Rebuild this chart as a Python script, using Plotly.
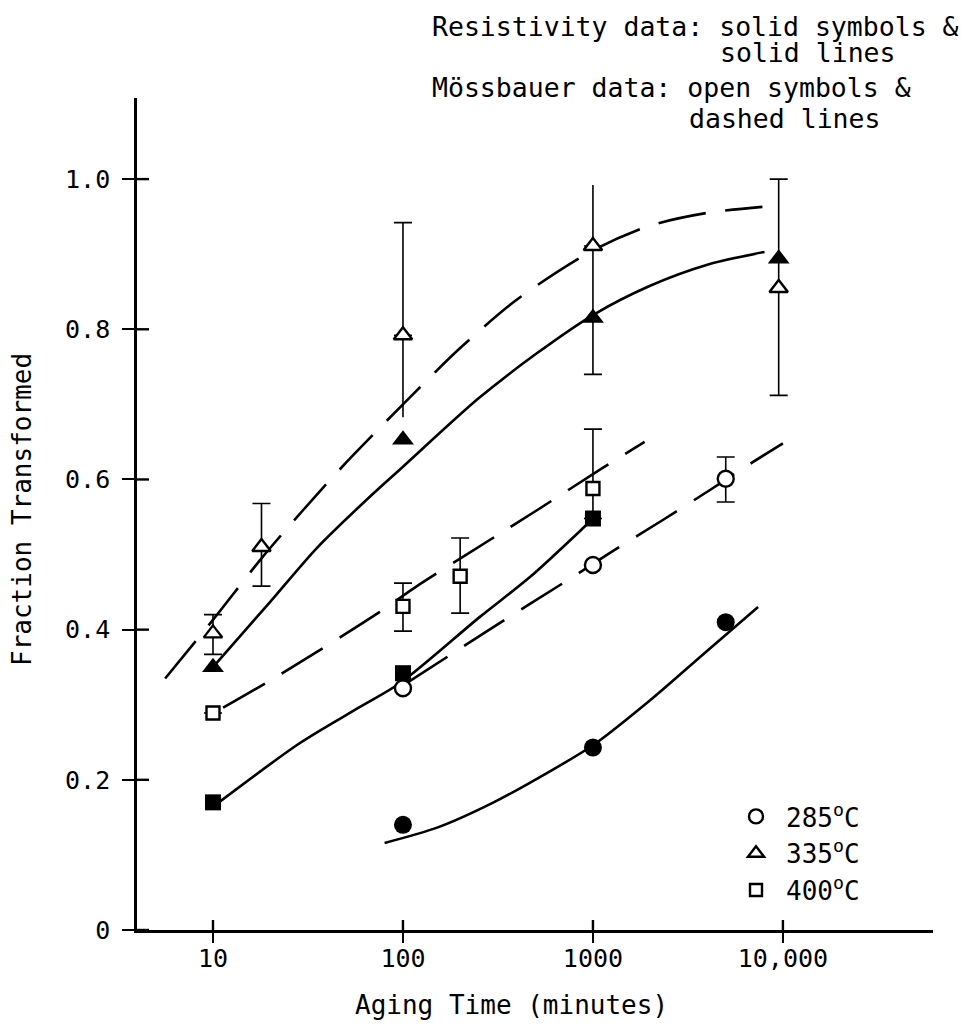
import math
import plotly.graph_objects as go

# ---------------- data ----------------
x_tickvals = [10, 100, 1000, 10000]
x_ticktext = ["10", "100", "1000", "10,000"]
y_tickvals = [0, 0.2, 0.4, 0.6, 0.8, 1.0]
y_ticktext = ["0", "0.2", "0.4", "0.6", "0.8", "1.0"]

# Resistivity data (solid symbols)
r285_t = [100, 1000, 5000]
r285_v = [0.140, 0.243, 0.410]
r335_t = [10, 100, 1000, 9500]
r335_v = [0.350, 0.653, 0.815, 0.894]
r400_t = [10, 100, 1000]
r400_v = [0.170, 0.342, 0.548]

# Mossbauer data (open symbols) with error bars
m285_t = [100, 1000, 5000]
m285_v = [0.322, 0.486, 0.601]
m285_up = [0.0, 0.0, 0.029]
m285_dn = [0.0, 0.0, 0.031]
m285_cap_up = [True, True, True]
m285_cap_dn = [True, True, True]

m335_t = [10, 18, 100, 1000, 9500]
m335_v = [0.395, 0.510, 0.792, 0.911, 0.855]
m335_up = [0.025, 0.058, 0.150, 0.081, 0.145]
m335_dn = [0.028, 0.052, 0.109, 0.171, 0.143]
m335_cap_up = [True, True, True, False, True]
m335_cap_dn = [True, True, False, True, True]

m400_t = [10, 100, 200, 1000]
m400_v = [0.289, 0.431, 0.471, 0.588]
m400_up = [0.0, 0.031, 0.051, 0.079]
m400_dn = [0.0, 0.033, 0.049, 0.040]
m400_cap_up = [True, True, True, True]
m400_cap_dn = [True, True, True, True]

# Fitted curves
cr285_t = [80, 150, 300, 600, 1000, 2000, 4000, 7400]
cr285_v = [0.116, 0.136, 0.170, 0.212, 0.246, 0.306, 0.372, 0.430]
cr335_t = [10, 20, 35, 65, 100, 250, 500, 1000, 2000, 4000, 8000]
cr335_v = [0.350, 0.437, 0.508, 0.574, 0.617, 0.708, 0.767, 0.819, 0.858, 0.886, 0.903]
cr400_t = [10.6, 28.7, 59.4, 98, 254, 466, 885, 1000]
cr400_v = [0.169, 0.249, 0.297, 0.330, 0.417, 0.470, 0.535, 0.548]

cm285_t = [105, 324, 738, 1259, 2333, 4130, 6550, 10000]
cm285_v = [0.329, 0.409, 0.466, 0.504, 0.546, 0.586, 0.619, 0.648]
cm335_t = [5.6, 10, 18, 30, 50, 100, 200, 400, 1000, 2000, 4000, 7800]
cm335_v = [0.335, 0.413, 0.495, 0.560, 0.622, 0.700, 0.775, 0.840, 0.905, 0.938, 0.955, 0.963]
cm400_t = [11.3, 22.5, 73.8, 117, 324, 507, 1120, 1870]
cm400_v = [0.296, 0.340, 0.422, 0.457, 0.528, 0.559, 0.615, 0.650]

legend_names = ["285<sup>o</sup>C", "335<sup>o</sup>C", "400<sup>o</sup>C"]

# ---------------- figure ----------------
W, H = 961, 1027
ML, MR, MT, MB = 137, 28, 98, 97
PW, PH = W - ML - MR, H - MT - MB
FONT = "DejaVu Sans Mono"
xr = [0.6, 4.79]
yr = [0, 1.108]


def pxx(x):
    return (x - ML) / PW


def pxy(y):
    return (H - MB - y) / PH


fig = go.Figure()

solid = dict(color="black", width=2.6, shape="spline", smoothing=0.8)
dashed = dict(color="black", width=2.6, dash="48px,20px", shape="spline", smoothing=0.8)

for t, v in [(cr285_t, cr285_v), (cr335_t, cr335_v), (cr400_t, cr400_v)]:
    fig.add_trace(go.Scatter(x=t, y=v, mode="lines", line=solid,
                             showlegend=False, hoverinfo="skip"))
for t, v in [(cm285_t, cm285_v), (cm335_t, cm335_v), (cm400_t, cm400_v)]:
    fig.add_trace(go.Scatter(x=t, y=v, mode="lines", line=dashed,
                             showlegend=False, hoverinfo="skip"))


def split(err, caps, want):
    return [e if c == want else 0.0 for e, c in zip(err, caps)]


open_sets = [
    (m285_t, m285_v, m285_up, m285_dn, m285_cap_up, m285_cap_dn, "circle", 16),
    (m335_t, m335_v, m335_up, m335_dn, m335_cap_up, m335_cap_dn, "triangle-up", 16),
    (m400_t, m400_v, m400_up, m400_dn, m400_cap_up, m400_cap_dn, "square", 13),
]

# error bars without caps (drawn first, underneath)
for t, v, up, dn, cu, cd, sym, sz in open_sets:
    fig.add_trace(go.Scatter(
        x=t, y=v, mode="markers", marker=dict(size=1, opacity=0),
        error_y=dict(type="data", symmetric=False,
                     array=split(up, cu, False), arrayminus=split(dn, cd, False),
                     color="black", thickness=1.6, width=0),
        showlegend=False, hoverinfo="skip"))

# open symbols with capped error bars
for t, v, up, dn, cu, cd, sym, sz in open_sets:
    fig.add_trace(go.Scatter(
        x=t, y=v, mode="markers",
        marker=dict(symbol=sym, size=sz, color="white",
                    line=dict(color="black", width=2.4)),
        error_y=dict(type="data", symmetric=False,
                     array=split(up, cu, True), arrayminus=split(dn, cd, True),
                     color="black", thickness=1.6, width=9),
        showlegend=False, hoverinfo="skip"))

# solid symbols
for t, v, sym, sz in [(r285_t, r285_v, "circle", 18),
                      (r335_t, r335_v, "triangle-up", 19),
                      (r400_t, r400_v, "square", 16)]:
    fig.add_trace(go.Scatter(x=t, y=v, mode="markers",
                             marker=dict(symbol=sym, size=sz, color="black"),
                             showlegend=False, hoverinfo="skip"))

# legend entries
for name, sym, sz in zip(legend_names, ["circle", "triangle-up", "square"], [14, 14, 12]):
    fig.add_trace(go.Scatter(x=[None], y=[None], mode="markers", name=name,
                             marker=dict(symbol=sym, size=sz, color="white",
                                         line=dict(color="black", width=2.4))))

axis_common = dict(showgrid=False, zeroline=False, tickcolor="black", tickwidth=2.4,
                   showline=True, linecolor="black", linewidth=2.6)

fig.update_layout(
    width=W, height=H,
    margin=dict(l=ML, r=MR, t=MT, b=MB, pad=0),
    paper_bgcolor="white", plot_bgcolor="white",
    font=dict(family=FONT, size=25, color="black"),
    xaxis=dict(type="log", range=xr, tickvals=x_tickvals, ticktext=x_ticktext,
               ticks="inside", ticklen=10, tickfont=dict(size=25),
               ticklabelstandoff=4,
               minor=dict(tickmode="array", tickvals=[v * 1.0001 for v in x_tickvals],
                          ticks="outside", ticklen=10, tickwidth=2.4,
                          tickcolor="black", showgrid=False),
               **axis_common),
    yaxis=dict(range=yr, tickvals=y_tickvals, ticktext=y_ticktext,
               ticks="outside", ticklen=12, tickfont=dict(size=25),
               ticklabelstandoff=7, **axis_common),
    legend=dict(x=pxx(726), y=pxy(793), xanchor="left", yanchor="top",
                font=dict(family=FONT, size=26), bgcolor="rgba(0,0,0,0)",
                borderwidth=0, tracegroupgap=0, itemwidth=50),
    showlegend=True,
)

# inner halves of the crossing tick marks (axis decoration)
tick_line = dict(color="black", width=2.4)
for v in x_tickvals:
    fx = (math.log10(v) - xr[0]) / (xr[1] - xr[0])
    fig.add_shape(type="line", xref="paper", yref="paper", x0=fx, x1=fx,
                  y0=0, y1=10 / PH, line=tick_line, layer="above")
for v in y_tickvals:
    fy = (v - yr[0]) / (yr[1] - yr[0])
    fig.add_shape(type="line", xref="paper", yref="paper", y0=fy, y1=fy,
                  x0=0, x1=12 / PW, line=tick_line, layer="above")

texts = [
    ("Resistivity data: solid symbols &", 430, 26),
    ("solid lines", 718, 53),
    ("Mössbauer data: open symbols &", 430, 88),
    ("dashed lines", 687, 118),
]
for txt, x, y in texts:
    fig.add_annotation(text=txt, x=pxx(x), y=pxy(y), xref="paper", yref="paper",
                       xanchor="left", yanchor="middle", showarrow=False,
                       font=dict(family=FONT, size=26.5, color="black"))

fig.add_annotation(text="Aging Time (minutes)", x=pxx(511), y=pxy(1005),
                   xref="paper", yref="paper", xanchor="center", yanchor="middle",
                   showarrow=False, font=dict(family=FONT, size=26, color="black"))
fig.add_annotation(text="Fraction Transformed", x=pxx(22), y=pxy(510),
                   xref="paper", yref="paper", xanchor="center", yanchor="middle",
                   textangle=-90, showarrow=False,
                   font=dict(family=FONT, size=26, color="black"))

fig.write_html("out.html")
